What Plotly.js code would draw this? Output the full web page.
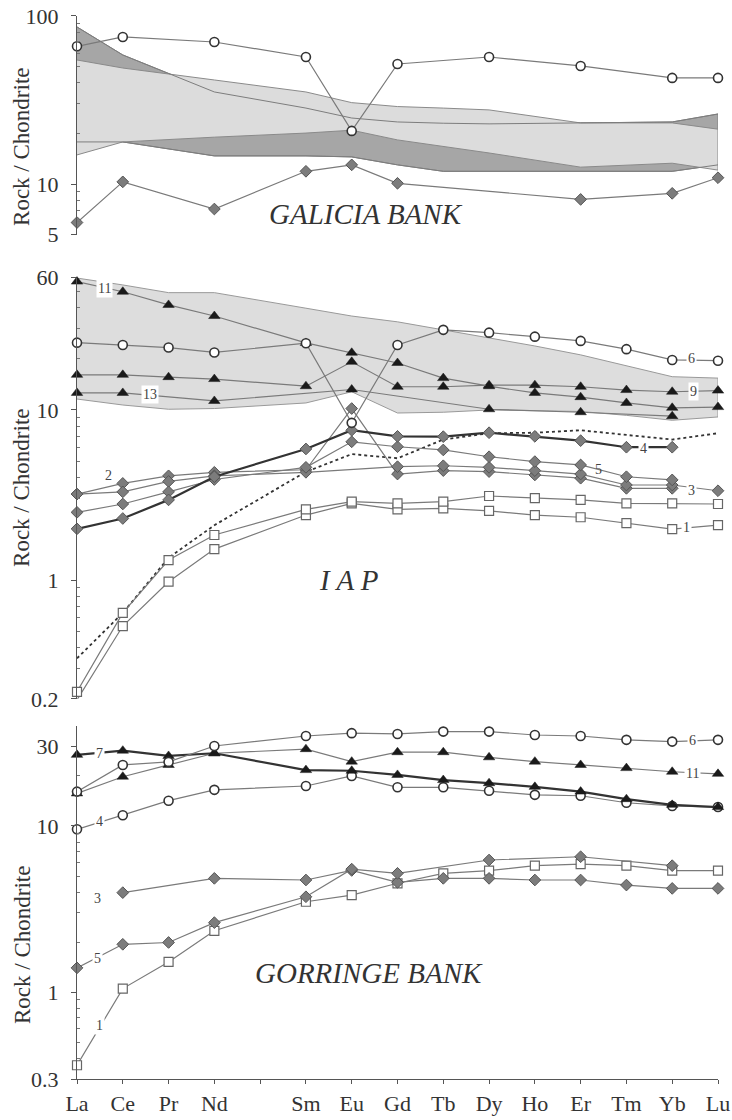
<!DOCTYPE html>
<html>
<head>
<meta charset="utf-8">
<script src="https://cdn.plot.ly/plotly-3.0.1.min.js"></script>
<style>html,body{margin:0;padding:0;background:#fff;}#chart{width:732px;height:1120px;}</style>
</head>
<body>
<div id="chart"></div>
<script>
// ---------- categories ----------
const REE = ['La','Ce','Pr','Nd','Pm','Sm','Eu','Gd','Tb','Dy','Ho','Er','Tm','Yb','Lu'];
const TICK_LABELS = ['La','Ce','Pr','Nd','','Sm','Eu','Gd','Tb','Dy','Ho','Er','Tm','Yb','Lu'];
const ALL = ['La','Ce','Pr','Nd','Sm','Eu','Gd','Tb','Dy','Ho','Er','Tm','Yb','Lu'];

// ---------- GALICIA BANK ----------
const galCircleEl = ['La','Ce','Nd','Sm','Eu','Gd','Dy','Er','Yb','Lu'];
const galCircleVal = [66, 75, 70, 57, 20.7, 51.8, 57, 50.4, 42.8, 42.8];
const galDiamondEl = ['La','Ce','Nd','Sm','Eu','Gd','Er','Yb','Lu'];
const galDiamondVal = [5.9, 10.3, 7.1, 11.9, 13.0, 10.1, 8.1, 8.8, 10.9];
const galBandEl = ['La','Ce','Nd','Sm','Eu','Gd','Tb','Dy','Er','Yb','Lu'];
const galDarkTop = [86, 58.6, 35.3, 28.3, 24.7, 23.4, 23.0, 22.8, 23.1, 23.4, 26.1];
const galDarkBottom = [17.8, 17.8, 14.7, 14.7, 14.5, 13.0, 11.9, 11.9, 11.9, 11.9, 13.0];
const galLightTop = [54.7, 49, 41.6, 35.3, 30.5, 28.9, 28.3, 27.6, 23.1, 23.1, 21.2];
const galLightBottom = [14.9, 17.8, 19.0, 20.1, 20.9, 18.3, 16.7, 15.3, 12.6, 13.3, 12.1];

// ---------- IAP ----------
const iapFieldTop = [59.7, 54.4, 49, 49, 39.7, 35.7, 33, 29.6, 26.5, 23.8, 21.1, 18.2, 15.7, 15.4];
const iapFieldBottom = [11.6, 10.7, 10.1, 10.2, 11.0, 12.8, 9.6, 9.7, 10.0, 9.9, 9.8, 9.3, 8.7, 9.1];
const iap11 = [56.9, 49.6, 41.5, 35.7, 24.8, 21.7, 18.9, 15.4, 13.8, 12.6, 11.9, 11.0, 10.3, 10.4];
const iap9 = [16.1, 16.1, 15.6, 15.2, 13.8, 19.2, 13.7, 13.7, 14.0, 14.0, 13.7, 13.1, 12.8, 13.0];
const iap13El = ['La','Ce','Nd','Eu','Dy','Er','Yb'];
const iap13 = [12.6, 12.6, 11.3, 13.2, 10.1, 9.7, 9.2];
const iap6 = [24.9, 24.1, 23.3, 21.8, 24.7, 8.4, 24.1, 29.6, 28.5, 27.0, 25.5, 22.8, 19.7, 19.5];
const iapDiaEl = ['La','Ce','Pr','Nd','Sm','Eu','Gd','Tb','Dy','Ho','Er','Tm','Yb'];
const iap4 = [2.0, 2.3, 2.96, 4.05, 5.9, 7.6, 7.0, 6.97, 7.35, 7.0, 6.6, 6.04, 6.04];
const iap2 = [3.2, 3.7, 4.1, 4.3, 4.45, 10.2, 4.2, 4.4, 4.34, 4.15, 3.97, 3.46, 3.46];
const iap5 = [2.5, 2.8, 3.3, 3.9, 4.6, 6.5, 6.08, 5.82, 5.31, 4.97, 4.75, 4.05, 3.88];
const iap3El = ['La','Ce','Pr','Nd','Sm','Gd','Tb','Dy','Ho','Er','Tm','Yb','Lu'];
const iap3 = [3.2, 3.3, 3.8, 4.1, 4.3, 4.64, 4.7, 4.6, 4.4, 4.2, 3.62, 3.62, 3.35];
const iapDotted = [0.346, 0.64, 1.35, 2.1, 4.33, 5.5, 5.2, 6.7, 7.3, 7.35, 7.6, 7.1, 6.7, 7.3];
const iap1 = [0.197, 0.536, 0.977, 1.52, 2.41, 2.82, 2.6, 2.64, 2.55, 2.41, 2.34, 2.16, 1.99, 2.1];
const iapSq = [0.22, 0.64, 1.31, 1.84, 2.6, 2.89, 2.82, 2.89, 3.12, 3.03, 2.96, 2.82, 2.82, 2.8];

// ---------- GORRINGE BANK ----------
const gor6 = [16.1, 23.3, 24.3, 30.3, 34.8, 36.2, 35.8, 37, 37, 35.3, 34.8, 33, 32.2, 33];
const gor7 = [26.8, 28.4, 26.4, 27.4, 21.7, 21.5, 20.3, 18.9, 18.1, 17.2, 16.1, 14.5, 13.4, 13.0];
const gor11 = [15.7, 19.8, 23.3, 27.4, 29.0, 24.4, 27.8, 27.8, 25.9, 24.4, 23.3, 22.3, 21.2, 20.6];
const gor4 = [9.55, 11.6, 14.2, 16.5, 17.4, 20.0, 17.1, 17.1, 16.3, 15.4, 15.2, 13.8, 13.2, 13.0];
const gor3El = ['Ce','Nd','Sm','Eu','Gd','Tb','Dy','Ho','Er','Tm','Yb','Lu'];
const gor3 = [3.97, 4.84, 4.73, 5.4, 4.58, 4.84, 4.84, 4.73, 4.73, 4.41, 4.21, 4.21];
const gor5El = ['La','Ce','Pr','Nd','Sm','Eu','Gd','Dy','Er','Yb'];
const gor5 = [1.40, 1.94, 1.99, 2.62, 3.75, 5.5, 5.19, 6.24, 6.53, 5.77];
const gor1 = [0.363, 1.05, 1.52, 2.34, 3.5, 3.84, 4.52, 5.19, 5.38, 5.77, 5.9, 5.77, 5.38, 5.38];

// ---------- helpers ----------
const xs = els => els.map(e => REE.indexOf(e));
const LINE = {color:'#7a7a7a', width:1.2};
const THICK = {color:'#333', width:2.2};
const MK = {
  circle: {symbol:'circle', size:9, color:'#fff', line:{color:'#333', width:1.6}},
  tri: {symbol:'triangle-up', size:10, color:'#1a1a1a', line:{color:'#1a1a1a', width:0.5}},
  dia: {symbol:'diamond', size:9, color:'#7c7c7c', line:{color:'#555', width:1}},
  sq: {symbol:'square', size:9, color:'#fff', line:{color:'#666', width:1.2}}
};
function series(els, vals, yax, mk, ln) {
  const t = {type:'scatter', mode: mk ? 'lines+markers' : 'lines', x: xs(els), y: vals,
    xaxis:'x', yaxis:yax, line: ln || LINE, cliponaxis:false,
    hoverinfo:'skip', showlegend:false};
  if (mk) t.marker = mk;
  return t;
}
function poly(els, top, bottom, yax, fill, lineColor) {
  const x = xs(els);
  return {type:'scatter', mode:'lines', x: x.concat(x.slice().reverse()),
    y: top.concat(bottom.slice().reverse()), fill:'toself', fillcolor: fill,
    line:{color: lineColor, width:1}, xaxis:'x', yaxis:yax, hoverinfo:'skip', showlegend:false};
}

const traces = [
  // Galicia bands
  poly(galBandEl, galDarkTop, galDarkBottom, 'y', '#a6a6a6', '#808080'),
  poly(galBandEl, galLightTop, galLightBottom, 'y', '#dcdcdc', '#8a8a8a'),
  series(galBandEl, galDarkTop, 'y', null, {color:'#7d7d7d', width:1}),
  series(galBandEl, galDarkBottom, 'y', null, {color:'#7d7d7d', width:1}),
  series(galCircleEl, galCircleVal, 'y', MK.circle),
  series(galDiamondEl, galDiamondVal, 'y', MK.dia),

  // IAP
  poly(ALL, iapFieldTop, iapFieldBottom, 'y2', '#dddddd', '#999'),
  series(ALL, iapDotted, 'y2', null, {color:'#333', width:1.8, dash:'dot'}),
  series(ALL, iap1, 'y2', MK.sq),
  series(ALL, iapSq, 'y2', MK.sq),
  series(iapDiaEl, iap2, 'y2', MK.dia),
  series(iap3El, iap3, 'y2', MK.dia),
  series(iapDiaEl, iap5, 'y2', MK.dia),
  series(iapDiaEl, iap4, 'y2', MK.dia, THICK),
  series(iap13El, iap13, 'y2', MK.tri),
  series(ALL, iap9, 'y2', MK.tri),
  series(ALL, iap11, 'y2', MK.tri),
  series(ALL, iap6, 'y2', MK.circle),

  // Gorringe
  series(ALL, gor1, 'y3', MK.sq),
  series(gor3El, gor3, 'y3', MK.dia),
  series(gor5El, gor5, 'y3', MK.dia),
  series(ALL, gor4, 'y3', MK.circle),
  series(ALL, gor11, 'y3', MK.tri),
  series(ALL, gor7, 'y3', MK.tri, THICK),
  series(ALL, gor6, 'y3', MK.circle)
];

const FONT = "'Liberation Serif', 'Times New Roman', serif";
function yax(domain, range, tickvals, minorvals) {
  return {type:'log', domain: domain, range: range, anchor:'x',
    tickmode:'array', tickvals: tickvals, ticktext: tickvals.map(String),
    showline:true, linecolor:'#555', linewidth:1.2, ticks:'outside', ticklen:5, tickcolor:'#555',
    ticklabelstandoff: 8, showgrid:false, zeroline:false,
    minor:{tickmode:'array', tickvals: minorvals, ticks:'inside', ticklen:3, tickcolor:'#777', showgrid:false},
    tickfont:{family:FONT, size:22, color:'#333'}};
}

const lab = (x, v, yref, t, box) => ({x:x, y:Math.log10(v), xref:'x', yref:yref, text:t, showarrow:false,
  xanchor:'center', yanchor:'middle',
  font:{family:FONT, size:14, color:'#444'}, bgcolor: box ? '#fff' : 'rgba(0,0,0,0)', borderpad:1});
const ytitle = (y) => ({x:-0.0858, y:y, xref:'paper', yref:'paper', xanchor:'center', yanchor:'middle',
  text:'Rock / Chondrite', textangle:-90, showarrow:false, font:{family:FONT, size:23, color:'#333'}});
const ptitle = (x, y, yref, t) => ({x:x, y:y, xref:'x', yref:yref, xanchor:'center', yanchor:'middle',
  text:'<i>' + t + '</i>', showarrow:false, font:{family:FONT, size:29, color:'#333'}});

const layout = {
  width:732, height:1120, margin:{l:77, r:14, t:15, b:41},
  paper_bgcolor:'#fff', plot_bgcolor:'rgba(0,0,0,0)',
  font:{family:FONT, color:'#333'},
  xaxis:{domain:[0,1], range:[0,14], anchor:'y3', tickmode:'array',
    tickvals: REE.map((e,i)=>i), ticktext: TICK_LABELS,
    showline:true, linecolor:'#555', linewidth:1.2, ticks:'outside', ticklen:4, tickcolor:'#555',
    showgrid:false, zeroline:false, tickfont:{family:FONT, size:22, color:'#333'}},
  yaxis: yax([0.7936, 0.9991], [Math.log10(5), 2], [5,10,100], [6,7,8,9,20,30,40,50,60,70,80,90]),
  yaxis2: yax([0.3573, 0.7531], [Math.log10(0.2), Math.log10(60)], [0.2,1,10,60], [0.3,0.4,0.5,0.6,0.7,0.8,0.9,2,3,4,5,6,7,8,9,20,30,40,50]),
  yaxis3: yax([0, 0.3318], [Math.log10(0.3), Math.log10(40)], [0.3,1,10,30], [0.4,0.5,0.6,0.7,0.8,0.9,2,3,4,5,6,7,8,9,20]),
  annotations: [
    ytitle(0.876), ytitle(0.5555), ytitle(0.1259),
    ptitle(6.31, 0.821, 'y', 'GALICIA BANK'),
    ptitle(5.94, 0.0, 'y2', 'I A P'),
    ptitle(6.38, 0.114, 'y3', 'GORRINGE BANK'),
    // IAP labels
    lab(0.59, 51.5, 'y2', '11', true),
    lab(1.6, 12.3, 'y2', '13', true),
    lab(0.68, 4.1, 'y2', '2', false),
    lab(13.43, 20.0, 'y2', '6', true),
    lab(13.47, 12.8, 'y2', '9', true),
    lab(12.38, 5.9, 'y2', '4', true),
    lab(11.38, 4.44, 'y2', '5', false),
    lab(13.43, 3.38, 'y2', '3', true),
    lab(13.32, 2.05, 'y2', '1', true),
    // Gorringe labels
    lab(0.5, 27.3, 'y3', '7', true),
    lab(0.5, 10.6, 'y3', '4', true),
    lab(0.44, 3.68, 'y3', '3', false),
    lab(0.44, 1.6, 'y3', '5', true),
    lab(0.5, 0.63, 'y3', '1', true),
    lab(13.45, 32.5, 'y3', '6', true),
    lab(13.45, 20.8, 'y3', '11', true)
  ]
};

Plotly.newPlot('chart', traces, layout, {staticPlot:true, displayModeBar:false});
</script>
</body>
</html>
